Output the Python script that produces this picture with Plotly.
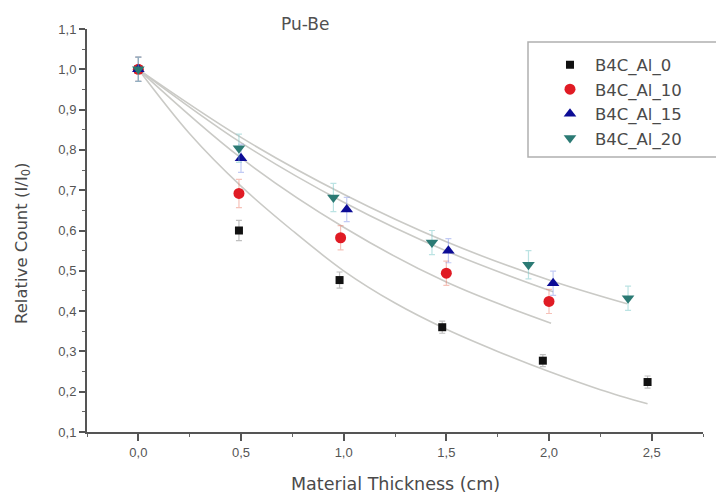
import plotly.graph_objects as go

# ---- data ----
series_names = ["B4C_Al_0", "B4C_Al_10", "B4C_Al_15", "B4C_Al_20"]

x_al0 = [0.0, 0.49, 0.98, 1.48, 1.97, 2.48]
y_al0 = [1.0, 0.60, 0.477, 0.36, 0.277, 0.224]
x_al10 = [0.0, 0.49, 0.985, 1.50, 2.00]
y_al10 = [1.0, 0.692, 0.582, 0.494, 0.424]
x_al15 = [0.0, 0.50, 1.015, 1.51, 2.02]
y_al15 = [1.0, 0.779, 0.652, 0.55, 0.469]
x_al20 = [0.0, 0.49, 0.95, 1.43, 1.90, 2.385]
y_al20 = [1.0, 0.804, 0.682, 0.57, 0.515, 0.432]

err_al0 = [0.03, 0.025, 0.02, 0.015, 0.015, 0.015]
err_al10 = [0.03, 0.035, 0.03, 0.03, 0.03]
err_al15 = [0.03, 0.035, 0.03, 0.03, 0.03]
err_al20 = [0.03, 0.035, 0.035, 0.03, 0.035, 0.03]

# fitted decay curves
fx_al0 = [0.0, 0.25, 0.5, 0.75, 1.0, 1.25, 1.5, 1.75, 2.0, 2.25, 2.48]
fy_al0 = [1.0, 0.84, 0.71, 0.60, 0.50, 0.42, 0.355, 0.30, 0.25, 0.205, 0.17]
fx_al10 = [0.0, 0.5, 1.0, 1.5, 2.01]
fy_al10 = [1.0, 0.78, 0.608, 0.472, 0.37]
fx_al15 = [0.0, 0.5, 1.0, 1.5, 2.02]
fy_al15 = [1.0, 0.818, 0.67, 0.549, 0.448]
fx_al20 = [0.0, 0.5, 1.0, 1.5, 2.0, 2.38]
fy_al20 = [1.0, 0.831, 0.69, 0.572, 0.477, 0.418]

x_ticks = [0.0, 0.5, 1.0, 1.5, 2.0, 2.5]
y_ticks = [0.1, 0.2, 0.3, 0.4, 0.5, 0.6, 0.7, 0.8, 0.9, 1.0, 1.1]

colors = ["#111111", "#e01b24", "#0c0c96", "#2b7a74"]
err_colors = ["rgba(0,0,0,0.25)", "rgba(235,120,100,0.45)",
              "rgba(120,140,230,0.45)", "rgba(120,200,200,0.5)"]
symbols = ["square", "circle", "triangle-up", "triangle-down"]
sizes = [8, 11, 11, 11]

xs = [x_al0, x_al10, x_al15, x_al20]
ys = [y_al0, y_al10, y_al15, y_al20]
errs = [err_al0, err_al10, err_al15, err_al20]
fxs = [fx_al0, fx_al10, fx_al15, fx_al20]
fys = [fy_al0, fy_al10, fy_al15, fy_al20]

FONT = "DejaVu Sans, Arial, sans-serif"
TFONT = "Arial, Liberation Sans, sans-serif"

fig = go.Figure()

for fx, fy in zip(fxs, fys):
    fig.add_trace(go.Scatter(x=fx, y=fy, mode="lines",
                             line=dict(color="#cacac6", width=1.6, shape="spline"),
                             showlegend=False, hoverinfo="skip"))

for name, x, y, e, c, ec, s, sz in zip(series_names, xs, ys, errs, colors,
                                       err_colors, symbols, sizes):
    fig.add_trace(go.Scatter(
        x=x, y=y, mode="markers", name=name,
        marker=dict(symbol=s, color=c, size=sz, line=dict(width=0)),
        error_y=dict(type="data", array=e, visible=True, color=ec,
                     thickness=1.2, width=3),
    ))

fig.update_layout(
    width=716, height=495,
    margin=dict(l=87, r=13, t=29, b=63),
    paper_bgcolor="white", plot_bgcolor="white",
    separators=", ",
    font=dict(family=FONT, color="#444444"),
    legend=dict(x=0.7435, y=0.954, xanchor="left", yanchor="top",
                borderwidth=0, bgcolor="rgba(0,0,0,0)",
                font=dict(size=16.5, color="#4a4a4a", family=FONT),
                itemwidth=40, tracegroupgap=0),
    shapes=[dict(type="rect", xref="paper", yref="paper",
                 x0=(528 - 87) / 616, x1=(722 - 87) / 616,
                 y0=1 - (157 - 29) / 403, y1=1 - (42 - 29) / 403,
                 line=dict(color="#b0b0b0", width=1.5), fillcolor="rgba(0,0,0,0)",
                 layer="above")],
    annotations=[
        dict(text="Pu-Be", x=(305 - 87) / 616, y=1.012, xref="paper", yref="paper",
             xanchor="center", yanchor="middle", showarrow=False,
             font=dict(size=17, color="#505050", family=FONT)),
        dict(text="Material Thickness (cm)", x=0.5, y=1 - (484 - 29) / 403,
             xref="paper", yref="paper", xanchor="center", yanchor="middle",
             showarrow=False, font=dict(size=17.5, color="#4a4a4a", family=FONT)),
        dict(text="Relative Count (I/I<sub>0</sub>)", x=(22 - 87) / 616,
             y=1 - (243 - 29) / 403, xref="paper", yref="paper",
             xanchor="center", yanchor="middle", textangle=-90,
             showarrow=False, font=dict(size=16.5, color="#4a4a4a", family=FONT)),
    ],
)

fig.update_xaxes(
    range=[-0.25, 2.75], tickvals=x_ticks, tickformat=".1f",
    showgrid=False, zeroline=False, showline=True, linecolor="#555555", linewidth=2,
    ticks="outside", ticklen=7, tickwidth=1.5, tickcolor="#555555",
    minor=dict(dtick=0.25, ticks="outside", ticklen=3, tickwidth=1.2, tickcolor="#666666"),
    tickfont=dict(size=13, color="#555555", family=TFONT),
)
fig.update_yaxes(
    range=[0.1, 1.1], tickvals=y_ticks, tickformat=".1f",
    showgrid=False, zeroline=False, showline=True, linecolor="#555555", linewidth=2,
    ticks="outside", ticklen=6, tickwidth=1.5, tickcolor="#555555",
    minor=dict(dtick=0.05, ticks="outside", ticklen=3, tickwidth=1.2, tickcolor="#666666"),
    tickfont=dict(size=13, color="#555555", family=TFONT),
)

fig.write_html("out.html")
